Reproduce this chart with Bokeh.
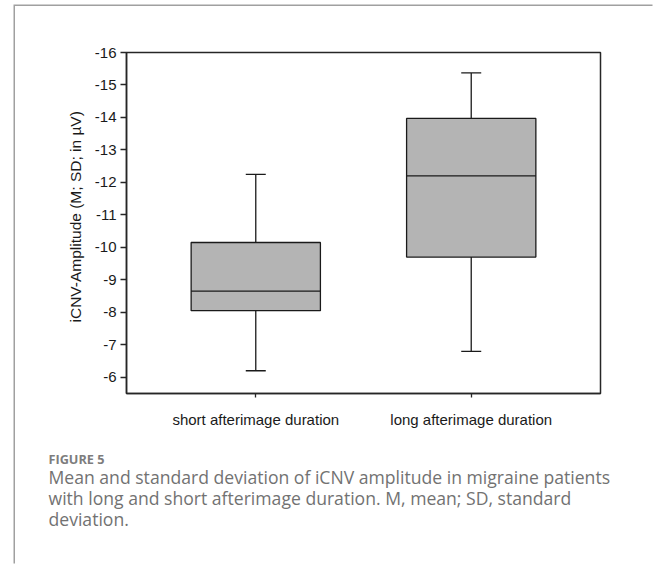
from bokeh.plotting import figure
from bokeh.models import (Range1d, FactorRange, FixedTicker, ColumnDataSource, Whisker,
                          TeeHead, Title, PrintfTickFormatter)
from bokeh.layouts import column
from bokeh.embed import file_html
from bokeh.resources import INLINE
from bokeh.core.properties import value

# ---- data ----
categories = ["short afterimage duration", "long afterimage duration"]
whisker_small = [-6.2, -6.8]      # whisker end nearer zero
box_small = [-8.05, -9.7]         # box edge nearer zero
medians = [-8.65, -12.2]
box_large = [-10.15, -13.97]      # box edge farther from zero
whisker_large = [-12.25, -15.37]  # whisker end farther from zero
y_ticks = [-16, -15, -14, -13, -12, -11, -10, -9, -8, -7, -6]
y_label = "iCNV-Amplitude (M; SD; in µV)"
caption_title = "FIGURE 5"
caption_lines = [
    "Mean and standard deviation of iCNV amplitude in migraine patients",
    "with long and short afterimage duration. M, mean; SD, standard",
    "deviation.",
]

AX = "#262626"
FONT = "Liberation Sans"

src = ColumnDataSource(dict(
    cat=categories, ws=whisker_small, bs=box_small, med=medians,
    bl=box_large, wl=whisker_large,
    m0=[(c, -0.3) for c in categories], m1=[(c, 0.3) for c in categories],
))

W = 639
H1 = 434
p = figure(width=W, height=H1,
           x_range=FactorRange(*categories, range_padding=0.1, range_padding_units="absolute"),
           y_range=Range1d(-5.5, -16),
           output_backend="svg", toolbar_location=None,
           min_border_left=111, min_border_right=54, min_border_top=46, min_border_bottom=47)
p.frame_align = False
p.title.visible = False
p.xgrid.visible = False
p.ygrid.visible = False
p.outline_line_color = AX
p.outline_line_width = 1.5
p.background_fill_color = "white"
p.border_fill_color = "white"

p.yaxis.ticker = FixedTicker(ticks=y_ticks)
p.yaxis.formatter = PrintfTickFormatter(format="%d")
p.yaxis.minor_tick_line_color = None
p.yaxis.major_tick_in = 0
p.yaxis.major_tick_out = 6
p.yaxis.major_label_standoff = 4
p.xaxis.major_tick_in = 0
p.xaxis.major_tick_out = 4
p.xaxis.major_label_standoff = 13
for ax in (p.xaxis, p.yaxis):
    ax.axis_line_color = AX
    ax.axis_line_width = 1.5
    ax.major_tick_line_color = AX
    ax.major_tick_line_width = 1.3
    ax.major_label_text_font = FONT
    ax.major_label_text_font_size = "15px"
    ax.major_label_text_color = "#1a1a1a"

p.vbar(x="cat", width=0.6, bottom="bs", top="bl", source=src,
       fill_color="#b4b4b4", line_color="#1a1a1a", line_width=1.3)
p.segment(x0="m0", y0="med", x1="m1", y1="med", source=src,
          line_color="#1a1a1a", line_width=1.3)
p.add_layout(Whisker(base="cat", lower="bs", upper="ws", source=src,
                     line_color="#1a1a1a", line_width=1.3,
                     upper_head=TeeHead(size=20, line_color="#1a1a1a", line_width=1.3),
                     lower_head=None))
p.add_layout(Whisker(base="cat", lower="bl", upper="wl", source=src,
                     line_color="#1a1a1a", line_width=1.3,
                     upper_head=TeeHead(size=20, line_color="#1a1a1a", line_width=1.3),
                     lower_head=None))

p.add_layout(Title(text=y_label, align="left", offset=71, standoff=15,
                   text_font=FONT, text_font_size="15.5px", text_font_style="normal",
                   text_color="#1a1a1a"), "left")

# ---- caption panel ----
CH = 125
c = figure(width=W, height=CH, x_range=Range1d(0, W), y_range=Range1d(CH, 0),
           output_backend="svg", toolbar_location=None,
           x_axis_location=None, y_axis_location=None,
           min_border=0, min_border_left=0, min_border_right=0,
           min_border_top=0, min_border_bottom=0)
c.frame_align = False
c.grid.visible = False
c.title.visible = False
c.outline_line_color = None
c.border_fill_color = "white"

c.text(x=[33], y=[18.5], text=[caption_title], text_font=value("Open Sans"),
       text_font_style="bold", text_font_size="12.7px", text_color="#7d7d7d",
       text_baseline="alphabetic")
c.text(x=[33] * len(caption_lines), y=[36.5 + 21.0 * i for i in range(len(caption_lines))],
       text=caption_lines, text_font=value("Open Sans"), text_font_size="17.6px",
       text_color="#727272", text_baseline="alphabetic")

layout = column(p, c, styles={"margin-left": "15px", "margin-top": "6px",
                              "box-shadow": "-1.5px -1.5px 0 0 #a0a0a0"})

open("out.html", "w").write(file_html(layout, INLINE))
